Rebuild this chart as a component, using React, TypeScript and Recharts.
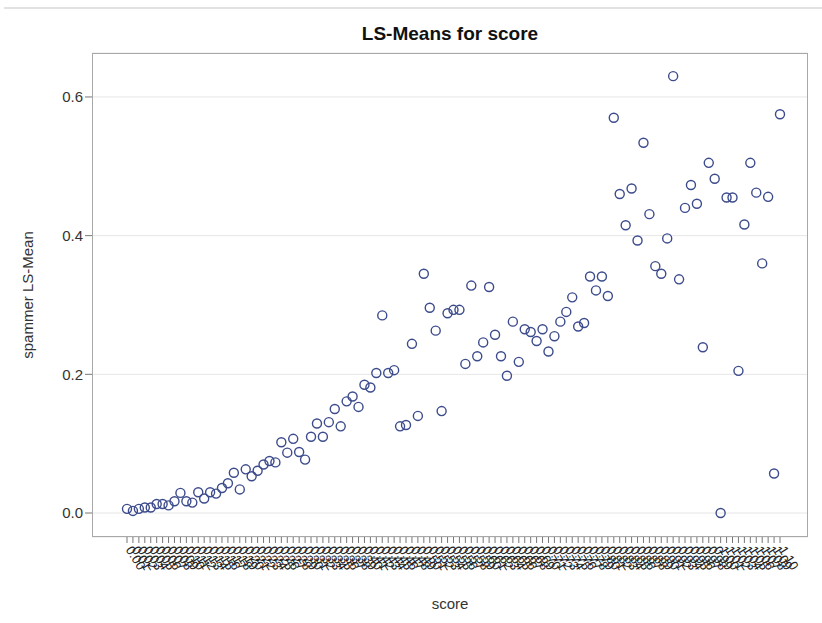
import { ScatterChart, Scatter, XAxis, YAxis, CartesianGrid } from "recharts";

// score levels (x categories)
const scores = [
  "0.00","0.01","0.02","0.03","0.04","0.05","0.06","0.07","0.08","0.09",
  "0.10","0.11","0.12","0.13","0.14","0.15","0.16","0.17","0.18","0.19",
  "0.20","0.21","0.22","0.23","0.24","0.25","0.26","0.27","0.28","0.29",
  "0.30","0.31","0.32","0.33","0.34","0.35","0.36","0.37","0.38","0.39",
  "0.40","0.41","0.42","0.43","0.44","0.45","0.46","0.47","0.48","0.49",
  "0.50","0.51","0.52","0.53","0.54","0.55","0.56","0.57","0.58","0.59",
  "0.60","0.61","0.62","0.63","0.64","0.65","0.66","0.67","0.68","0.69",
  "0.70","0.71","0.72","0.73","0.74","0.75","0.76","0.77","0.78","0.79",
  "0.80","0.81","0.82","0.83","0.84","0.85","0.86","0.87","0.88","0.89",
  "0.90","0.91","0.92","0.93","0.94","0.95","0.96","0.97","0.98","0.99",
  "1.00","1.01","1.02","1.03","1.04","1.05","1.06","1.07","1.08","1.09",
  "1.10",
];

// spammer LS-Mean per score level
const lsMeans = [
  0.006, 0.003, 0.006, 0.008, 0.008, 0.013, 0.013, 0.011, 0.017, 0.029,
  0.017, 0.015, 0.030, 0.021, 0.030, 0.028, 0.036, 0.043, 0.058, 0.034,
  0.063, 0.053, 0.061, 0.070, 0.075, 0.073, 0.102, 0.087, 0.107, 0.088,
  0.077, 0.110, 0.129, 0.110, 0.131, 0.150, 0.125, 0.161, 0.168, 0.153,
  0.185, 0.181, 0.202, 0.285, 0.202, 0.206, 0.125, 0.127, 0.244, 0.140,
  0.345, 0.296, 0.263, 0.147, 0.288, 0.293, 0.293, 0.215, 0.328, 0.226,
  0.246, 0.326, 0.257, 0.226, 0.198, 0.276, 0.218, 0.265, 0.261, 0.248,
  0.265, 0.233, 0.255, 0.276, 0.290, 0.311, 0.269, 0.274, 0.341, 0.321,
  0.341, 0.313, 0.570, 0.460, 0.415, 0.468, 0.393, 0.534, 0.431, 0.356,
  0.345, 0.396, 0.630, 0.337, 0.440, 0.473, 0.446, 0.239, 0.505, 0.482,
  0.000, 0.455, 0.455, 0.205, 0.416, 0.505, 0.462, 0.360, 0.456, 0.057,
  0.575,
];

const yTicks = [0, 0.2, 0.4, 0.6];

const FONT = "'Liberation Sans', Arial, sans-serif";

const data = scores.map((s, i) => ({ pos: i, score: s, mean: lsMeans[i] }));

// slanted, overlapping category labels under the axis
function ScoreTick(props: any) {
  const { x, y, payload } = props;
  return (
    <g transform={`translate(${x},${y})`}>
      <text
        transform="rotate(58)"
        x={3}
        y={4}
        textAnchor="start"
        fontSize={13}
        fontFamily={FONT}
        fill="#222"
      >
        {scores[payload.value]}
      </text>
    </g>
  );
}

export default function App() {
  return (
    <div style={{ position: "absolute", left: 0, top: 0, width: 822, height: 623, background: "#fff" }}>
      <div style={{ position: "absolute", left: 4, top: 7, width: 818, height: 2, background: "#e2e2e2" }} />
      <div
        style={{
          position: "absolute", left: 0, top: 23, width: 900, textAlign: "center",
          fontFamily: FONT, fontWeight: "bold", fontSize: 19, color: "#111",
        }}
      >
        LS-Means for score
      </div>
      <ScatterChart width={822} height={623} margin={{ top: 53, right: 14, bottom: 14, left: 0 }} style={{ position: "absolute", left: 0, top: 0 }}>
        <CartesianGrid horizontal vertical={false} stroke="#e6e6e6" />
        <XAxis
          dataKey="pos"
          type="number"
          domain={[0, scores.length - 1]}
          ticks={data.map((d) => d.pos)}
          interval={0}
          padding={{ left: 35, right: 28 }}
          height={72}
          tick={<ScoreTick />}
          tickSize={6}
          tickLine={{ stroke: "#777" }}
          axisLine={false}
          label={{ value: "score", position: "insideBottom", offset: 0, style: { fontFamily: FONT, fontSize: 15, fill: "#333" } }}
        />
        <YAxis
          dataKey="mean"
          type="number"
          domain={[-0.0346, 0.6634]}
          ticks={yTicks}
          interval={0}
          width={92}
          tickSize={7}
          tickLine={{ stroke: "#777" }}
          axisLine={false}
          tickFormatter={(v: number) => v.toFixed(1)}
          tick={{ fontFamily: FONT, fontSize: 15, fill: "#333" }}
          label={{ value: "spammer LS-Mean", angle: -90, position: "insideLeft", offset: 28, style: { fontFamily: FONT, fontSize: 15, fill: "#333", textAnchor: "middle" } }}
        />
        <Scatter data={data} fill="none" stroke="#3c4b8c" strokeWidth={1.4} shape="circle" isAnimationActive={false}
          // circles drawn at a fixed radius
          {...{ size: 50 }}
        />
      </ScatterChart>
      <div style={{ position: "absolute", left: 92, top: 53, width: 716, height: 484, border: "1px solid #a8a8a8", boxSizing: "border-box", pointerEvents: "none" }} />
    </div>
  );
}
